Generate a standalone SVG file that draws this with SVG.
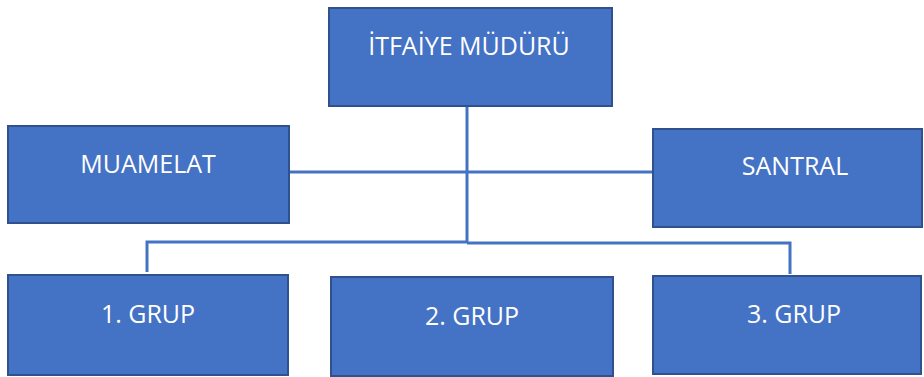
<svg xmlns="http://www.w3.org/2000/svg" width="924" height="377" viewBox="0 0 924 377">
<style>
.box{fill:#4472C4;stroke:#2F528F;stroke-width:2}
.lbl{fill:#FFFFFF;font-family:"Open Sans","Liberation Sans",sans-serif;font-size:25px;text-anchor:middle}
.con{fill:none;stroke:#4472C4;stroke-width:3}
</style>
<rect width="924" height="377" fill="#FFFFFF"/>
<g id="connectors">
<path class="con" d="M467 106 V242"/>
<path class="con" d="M289 172 H653"/>
<path class="con" d="M147 272 V242 H467"/>
<path class="con" d="M467 243 H790 V274"/>
</g>
<g id="mudur"><rect class="box" x="329" y="8" width="283" height="98"/><text class="lbl" x="469" y="55">İTFAİYE MÜDÜRÜ</text></g>
<g id="muamelat"><rect class="box" x="8" y="126" width="281" height="97"/><text class="lbl" x="148" y="173">MUAMELAT</text></g>
<g id="santral"><rect class="box" x="653" y="129" width="269" height="98"/><text class="lbl" x="795" y="175">SANTRAL</text></g>
<g id="grup1"><rect class="box" x="8" y="275" width="280" height="100"/><text class="lbl" x="148" y="323">1. GRUP</text></g>
<g id="grup2"><rect class="box" x="331" y="277" width="282" height="99"/><text class="lbl" x="472" y="325">2. GRUP</text></g>
<g id="grup3"><rect class="box" x="653" y="276" width="268" height="98"/><text class="lbl" x="794" y="323">3. GRUP</text></g>
</svg>
